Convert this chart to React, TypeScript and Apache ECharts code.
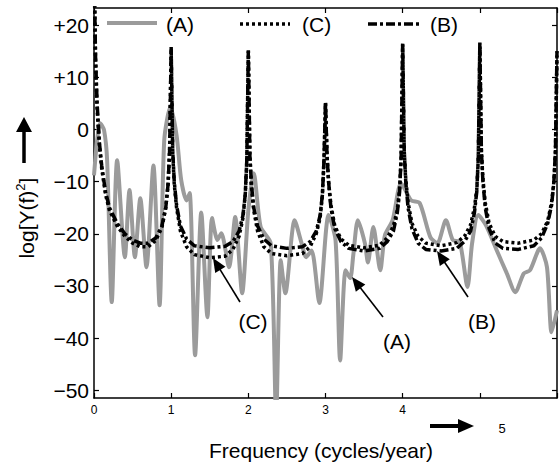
import React, { useEffect, useRef } from "react";
import * as echarts from "echarts";

// Series A (gray, solid): frequency (cycles/year) and log power
const freqA = [0, 0.04, 0.08, 0.13, 0.17, 0.23, 0.3, 0.4, 0.46, 0.53, 0.6, 0.68, 0.77, 0.85, 0.91,
  0.99, 1.07, 1.13, 1.2, 1.24, 1.31, 1.39, 1.47, 1.53, 1.6, 1.65, 1.75, 1.83, 1.92, 2.0,
  2.07, 2.16, 2.29, 2.36, 2.42, 2.48, 2.6, 2.69, 2.75, 2.82, 2.92, 3.04, 3.13, 3.19, 3.26,
  3.32, 3.36, 3.42, 3.51, 3.55, 3.62, 3.71, 3.77, 3.87, 3.98, 4.11, 4.22, 4.36, 4.45, 4.56,
  4.65, 4.74, 4.84, 4.9, 4.98, 5.08, 5.22, 5.35, 5.46, 5.57, 5.65, 5.78, 5.87, 5.93, 6.0];
const valuesA = [-8.8, -2.1, 1.2, -0.1, -5.9, -33.1, -5.9, -24.5, -11.6, -24.5, -13.2, -26.4, -6.9, -33.7, -2.1,
  4.3, -1.1, -9.7, -13.6, -12.2, -43.3, -15.9, -36, -17, -21.2, -19.9, -26.4, -16.8, -31.4, -15.5,
  -8.4, -18.7, -21.8, -55, -25.1, -31.4, -17.4, -21.8, -24.5, -23.2, -33.3, -16.4, -21.2, -44.3, -27,
  -28.5, -24.1, -17.4, -21.8, -25.5, -18.7, -27, -20.3, -17.4, -10.3, -13.6, -14.1, -20.7, -21.8, -17.4,
  -21.2, -21.6, -30.2, -21.8, -16.4, -18.4, -23.2, -27.6, -31.2, -27.6, -27, -22.8, -26.4, -38.9, -34.7];

// Series B (dash-dot) and C (dotted) share one frequency grid
const freqBC = [0, 0.02, 0.04, 0.07, 0.1, 0.15, 0.2, 0.3, 0.4, 0.5, 0.6, 0.7, 0.8, 0.88, 0.93, 0.96, 0.98,
  1, 1.02, 1.04, 1.07, 1.12, 1.2, 1.3, 1.5, 1.7, 1.8, 1.88, 1.93, 1.96, 1.98,
  2, 2.02, 2.04, 2.07, 2.12, 2.2, 2.3, 2.5, 2.7, 2.8, 2.88, 2.93, 2.96, 2.98,
  3, 3.02, 3.04, 3.07, 3.12, 3.2, 3.3, 3.5, 3.7, 3.8, 3.88, 3.93, 3.96, 3.98,
  4, 4.02, 4.04, 4.07, 4.12, 4.2, 4.3, 4.5, 4.7, 4.8, 4.88, 4.93, 4.96, 4.98,
  5, 5.02, 5.04, 5.07, 5.12, 5.2, 5.3, 5.5, 5.7, 5.8, 5.88, 5.93, 5.96, 5.98, 6];
const valuesB = [32, 14, 5, -2.5, -7, -12, -15, -18, -20, -21.2, -21.8, -21.8, -20.8, -18.5, -15, -10.5, -4,
  15.8, -4, -10, -14.5, -18.5, -21, -22.3, -22.7, -22.4, -21.5, -19.5, -16.5, -12.5, -6,
  15.2, -5, -10.5, -15, -18.5, -21, -22.3, -22.8, -22.5, -21.5, -19.5, -16.5, -12.5, -6,
  5.2, -5, -10, -15, -19, -21.5, -22.8, -23.3, -22.8, -21.5, -19.5, -16, -12, -5.5,
  16.5, -4, -10, -15, -19, -21.8, -23, -23.3, -22.8, -21.5, -19.5, -16, -12, -5.5,
  16.7, -4, -10, -15, -19, -21.8, -22.8, -23, -22.3, -20.8, -18, -14.5, -10, -4,
  15];
const valuesC = [32, 13, 4, -3, -7.5, -12.5, -15.5, -18.5, -20.5, -21.8, -22.5, -22.5, -21.3, -18.8, -15, -10.5, -4,
  15.5, -4.5, -10.5, -15, -19.5, -22.5, -24, -24.6, -24.3, -23, -20.5, -17, -12.5, -6,
  15, -5, -11, -15.5, -19.5, -22.5, -23.8, -24.2, -23.8, -22.5, -20, -17, -12.5, -6,
  5, -5, -10, -14.5, -18.5, -21, -22.2, -22.7, -22.2, -20.8, -18.5, -15.5, -11.5, -5.5,
  16.3, -4, -9.5, -14, -18, -20.5, -21.8, -22.3, -21.7, -20.5, -18.3, -15, -11.5, -5.5,
  16.5, -4, -9.5, -14, -18, -20.5, -21.5, -21.8, -21.2, -20, -17.5, -14, -10, -4,
  15];

const yTicks = [-50, -40, -30, -20, -10, 0, 10, 20];
const xLabelsShown = [0, 1, 2, 3, 4];
const legendNames = ["(A)", "(C)", "(B)"];

const FONT = "Liberation Sans, Arial, Helvetica, sans-serif";

function arrowEls(x1: number, y1: number, x2: number, y2: number, headLen: number, headW: number, width: number) {
  const dx = x2 - x1, dy = y2 - y1;
  const L = Math.hypot(dx, dy);
  const ux = dx / L, uy = dy / L;
  const bx = x2 - ux * headLen, by = y2 - uy * headLen;
  const px = -uy, py = ux;
  return [
    { type: "line", z: 100, shape: { x1, y1, x2: bx + ux * 1, y2: by + uy * 1 }, style: { stroke: "#000", lineWidth: width } },
    {
      type: "polygon", z: 100,
      shape: { points: [[x2, y2], [bx + px * headW, by + py * headW], [bx - px * headW, by - py * headW]] },
      style: { fill: "#000" },
    },
  ];
}

function txt(x: number, y: number, text: string, fontSize: number, align = "center") {
  return {
    type: "text", x, y, z: 100,
    style: { text, fontSize, fontFamily: FONT, fill: "#000", textAlign: align, textVerticalAlign: "middle", verticalAlign: "middle" },
  };
}

export default function App() {
  const ref = useRef<HTMLDivElement>(null);
  useEffect(() => {
    if (!ref.current) return;
    const chart = echarts.init(ref.current, undefined, { renderer: "svg" });
    const axisLineStyle = { color: "#000", width: 1.5 };
    const yFmt = (v: number) => (v > 0 ? "+" + v : v < 0 ? "\u2212" + Math.abs(v) : "0");
    const option: any = {
      animation: false,
      backgroundColor: "#fff",
      grid: { left: 94, right: 1, top: 8, bottom: 65 },
      xAxis: [
        {
          type: "value", min: 0, max: 6, interval: 1, position: "bottom",
          axisLine: { show: true, onZero: false, lineStyle: axisLineStyle },
          axisTick: { show: true, inside: true, length: 5, lineStyle: { color: "#000", width: 1.2 } },
          axisLabel: {
            color: "#000", fontSize: 12, fontFamily: FONT, margin: 6,
            formatter: (v: number) => (xLabelsShown.indexOf(v) >= 0 ? String(v) : ""),
          },
          splitLine: { show: false },
        },
        {
          type: "value", min: 0, max: 6, interval: 1, position: "top",
          axisLine: { show: true, onZero: false, lineStyle: axisLineStyle },
          axisTick: { show: true, inside: true, length: 5, lineStyle: { color: "#000", width: 1.2 } },
          axisLabel: { show: false },
          splitLine: { show: false },
        },
      ],
      yAxis: [
        {
          type: "value", min: -51.5, max: 23.3, position: "left",
          axisLine: { show: true, onZero: false, lineStyle: axisLineStyle },
          axisTick: { show: true, inside: true, length: 5, customValues: yTicks, lineStyle: { color: "#000", width: 1.2 } },
          axisLabel: { color: "#000", fontSize: 21, fontFamily: FONT, margin: 5, customValues: yTicks, formatter: yFmt },
          splitLine: { show: false },
        },
        {
          type: "value", min: -51.5, max: 23.3, position: "right",
          axisLine: { show: true, onZero: false, lineStyle: axisLineStyle },
          axisTick: { show: true, inside: true, length: 5, customValues: yTicks, lineStyle: { color: "#000", width: 1.2 } },
          axisLabel: { show: false },
          splitLine: { show: false },
        },
      ],
      series: [
        {
          name: legendNames[0], type: "line", xAxisIndex: 0, yAxisIndex: 0,
          data: freqA.map((f, i) => [f, valuesA[i]]),
          showSymbol: false, smooth: 0.25, clip: true, z: 2,
          lineStyle: { color: "#9b9b9b", width: 4 },
        },
        {
          name: legendNames[1], type: "line", xAxisIndex: 0, yAxisIndex: 0,
          data: freqBC.map((f, i) => [f, valuesC[i]]),
          showSymbol: false, clip: true, z: 3,
          lineStyle: { color: "#000", width: 3.5, type: [3, 3] },
        },
        {
          name: legendNames[2], type: "line", xAxisIndex: 0, yAxisIndex: 0,
          data: freqBC.map((f, i) => [f, valuesB[i]]),
          showSymbol: false, clip: true, z: 4,
          lineStyle: { color: "#000", width: 3.5, type: [9, 3, 3, 3] },
        },
      ],
      graphic: [
        // legend
        { type: "line", z: 100, shape: { x1: 107, y1: 23, x2: 157, y2: 23 }, style: { stroke: "#9b9b9b", lineWidth: 4 } },
        txt(166, 24, legendNames[0], 21, "left"),
        { type: "line", z: 100, shape: { x1: 240, y1: 24, x2: 290, y2: 24 }, style: { stroke: "#000", lineWidth: 3.5, lineDash: [3, 3] } },
        txt(302, 24, legendNames[1], 21, "left"),
        { type: "line", z: 100, shape: { x1: 368, y1: 24, x2: 420, y2: 24 }, style: { stroke: "#000", lineWidth: 3.5, lineDash: [9, 3, 3, 3] } },
        txt(430, 24, legendNames[2], 21, "left"),
        // annotations
        ...arrowEls(240, 302, 213, 258, 14, 6, 1.6),
        txt(253, 321, "(C)", 21),
        ...arrowEls(383, 317, 352, 277, 14, 6, 1.6),
        txt(397, 341, "(A)", 21),
        ...arrowEls(468, 297, 437, 251, 14, 6, 1.6),
        txt(482, 321, "(B)", 21),
        // axis names & arrows
        txt(321, 450, "Frequency (cycles/year)", 21),
        {
          type: "text", x: 26, y: 218, rotation: Math.PI / 2, z: 100,
          style: {
            text: "{a|log[Y(f)}{s|2}{a|]}",
            rich: {
              a: { fontSize: 21, fontFamily: FONT, fill: "#000", lineHeight: 24 },
              s: { fontSize: 13, fontFamily: FONT, fill: "#000", verticalAlign: "top", lineHeight: 24 },
            },
            textAlign: "center", textVerticalAlign: "middle", verticalAlign: "middle",
          },
        },
        ...arrowEls(24, 163, 24, 117, 15, 8, 3.5),
        ...arrowEls(430, 426, 474, 426, 16, 7, 4),
        txt(502, 428, "5", 13),
      ],
    };
    chart.setOption(option);
    return () => chart.dispose();
  }, []);
  return (
    <div
      ref={ref}
      style={{ position: "absolute", left: 0, top: 0, width: 560, height: 463, background: "#fff" }}
    />
  );
}
